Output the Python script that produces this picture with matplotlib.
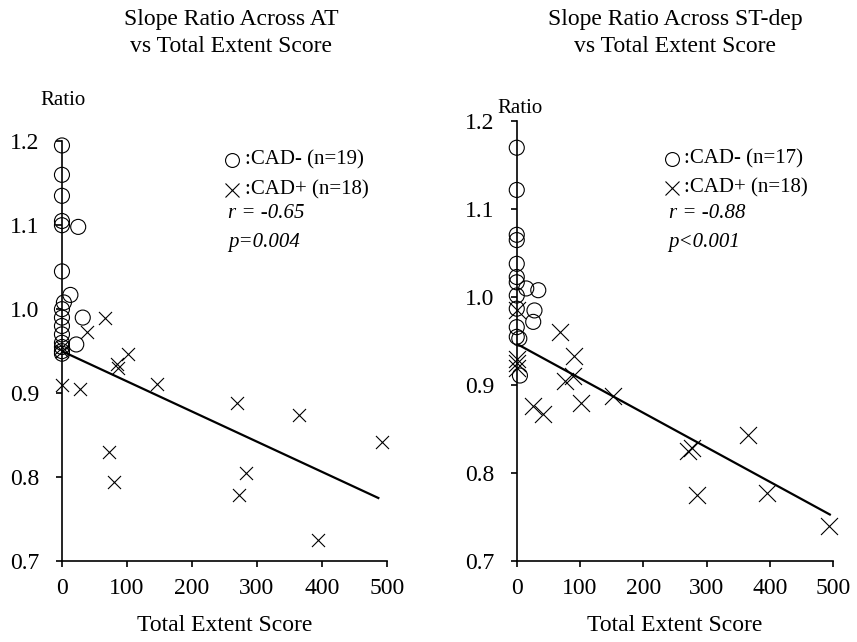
import matplotlib
matplotlib.use("Agg")
import matplotlib.pyplot as plt
import numpy as np

plt.rcParams['font.family'] = ['Liberation Serif', 'DejaVu Serif']

# --- Slope ratio across AT ---
at_neg_x = [0, 0, 0, 0, 0, 25, 0, 13, 3, 0, 0, 0, 32, 22, 0, 0, 0, 0, 0]
at_neg_y = [1.195, 1.16, 1.135, 1.105, 1.10, 1.098, 1.045, 1.017, 1.008, 1.0,
            0.99, 0.98, 0.99, 0.958, 0.97, 0.96, 0.955, 0.95, 0.947]
at_pos_x = [66, 38, 0, 102, 84, 86, 146, 0, 28, 269, 365, 492, 72, 80, 283, 272, 394, 0]
at_pos_y = [0.99, 0.973, 0.955, 0.947, 0.935, 0.93, 0.911, 0.91, 0.905, 0.888,
            0.874, 0.842, 0.83, 0.794, 0.805, 0.779, 0.725, 0.95]
at_fit = (0.950, -0.000359, 487)   # intercept, slope, last x
at_stats = ["r = -0.65", "p=0.004"]
at_counts = [":CAD- (n=19)", ":CAD+ (n=18)"]

# --- Slope ratio across ST-dep ---
st_neg_x = [0, 0, 0, 0, 0, 0, 0, 15, 34, 0, 0, 28, 26, 0, 0, 4, 5]
st_neg_y = [1.17, 1.122, 1.071, 1.065, 1.038, 1.023, 1.017, 1.01, 1.008, 1.002,
            0.987, 0.985, 0.972, 0.966, 0.955, 0.953, 0.911]
st_pos_x = [0, 0, 0, 0, 68, 90, 77, 89, 102, 26, 41, 152, 271, 277, 285, 366, 395, 494]
st_pos_y = [0.985, 0.93, 0.925, 0.92, 0.96, 0.933, 0.905, 0.91, 0.88, 0.876,
            0.867, 0.888, 0.825, 0.829, 0.775, 0.843, 0.777, 0.74]
st_fit = (0.947, -0.000392, 495)
st_stats = ["r = -0.88", "p<0.001"]
st_counts = [":CAD- (n=17)", ":CAD+ (n=18)"]

fig = plt.figure(figsize=(8.57, 6.42), dpi=100)
ax1 = fig.add_axes([0.0723, 0.126, 0.379, 0.654])
ax2 = fig.add_axes([0.603, 0.126, 0.369, 0.685])


def draw(ax, nx, ny, px, py, fit, counts, stats, xsize, legx, legy, title, title_x):
    ax.scatter(nx, ny, s=117, marker='o', facecolors='none', edgecolors='black',
               linewidths=0.8, clip_on=False, zorder=3)
    ax.scatter(px, py, s=xsize, marker='x', color='black', linewidths=0.8,
               clip_on=False, zorder=3)
    fx = np.array([0, fit[2]])
    ax.plot(fx, fit[0] + fit[1] * fx, color='black', lw=1.6, zorder=2)

    ax.set_xlim(0, 500)
    ax.set_ylim(0.7, 1.2)
    ax.set_xticks([0, 100, 200, 300, 400, 500])
    ax.set_yticks([0.7, 0.8, 0.9, 1.0, 1.1, 1.2])
    ax.set_yticklabels(["0.7", "0.8", "0.9", "1.0", "1.1", "1.2"])
    for s in ['top', 'right']:
        ax.spines[s].set_visible(False)
    for s in ['left', 'bottom']:
        ax.spines[s].set_linewidth(1.2)
    ax.tick_params(direction='out', length=4, width=1.2, labelsize=17, pad=8)
    ax.tick_params(axis='y', pad=12)
    ax.set_xlabel("Total Extent Score", fontsize=17, labelpad=12)

    # legend rows
    ax.plot([legx], [legy[0]], marker='o', ms=10, mfc='none', mec='black', mew=0.8,
            transform=ax.transAxes, clip_on=False)
    ax.plot([legx], [legy[1]], marker='x', ms=10, color='black', mew=0.8,
            transform=ax.transAxes, clip_on=False)
    ax.text(legx + 0.04, legy[0], counts[0], transform=ax.transAxes, fontsize=15, va='center')
    ax.text(legx + 0.04, legy[1], counts[1], transform=ax.transAxes, fontsize=15, va='center')
    ax.text(legx - 0.01, legy[2], stats[0], transform=ax.transAxes, fontsize=15,
            va='center', style='italic')
    ax.text(legx - 0.01, legy[3], stats[1], transform=ax.transAxes, fontsize=15,
            va='center', style='italic')

    fig.text(title_x, 0.949, title, ha='center', va='center', fontsize=17, linespacing=1.4)


draw(ax1, at_neg_x, at_neg_y, at_pos_x, at_pos_y, at_fit, at_counts, at_stats,
     88, 0.522, [0.955, 0.885, 0.829, 0.760],
     "Slope Ratio Across AT\nvs Total Extent Score", 0.27)
draw(ax2, st_neg_x, st_neg_y, st_pos_x, st_pos_y, st_fit, st_counts, st_stats,
     150, 0.49, [0.915, 0.849, 0.791, 0.725],
     "Slope Ratio Across ST-dep\nvs Total Extent Score", 0.788)

fig.text(0.047, 0.843, "Ratio", fontsize=15, va='center')
fig.text(0.58, 0.831, "Ratio", fontsize=15, va='center')

fig.savefig("out.png", dpi=100)
